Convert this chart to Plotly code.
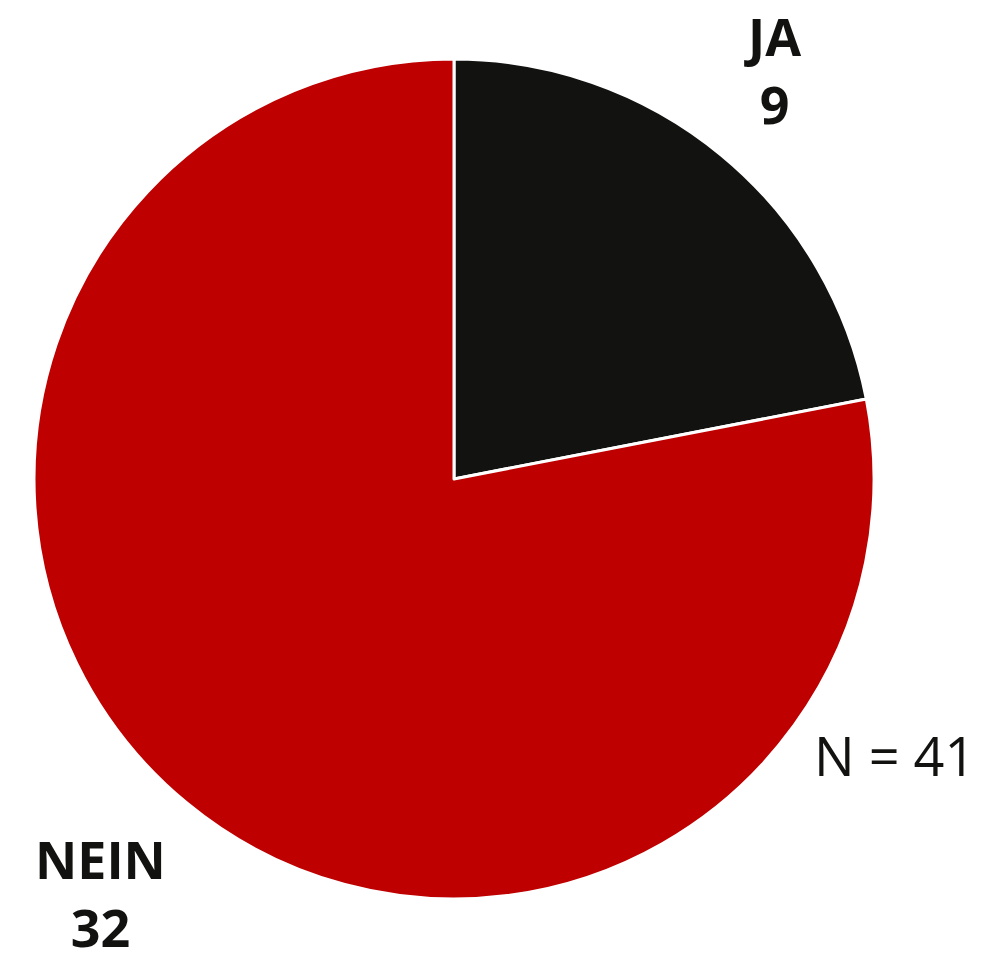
import plotly.graph_objects as go

labels = ["JA", "NEIN"]
values = [9, 32]
colors = ["#121210", "#BE0000"]
total_label = "N = 41"

W, H = 983, 958
cx, cy, r = 446, 471, 420

fig = go.Figure(go.Pie(
    labels=labels,
    values=values,
    sort=False,
    direction="clockwise",
    rotation=0,
    marker=dict(colors=colors, line=dict(color="white", width=3)),
    textinfo="none",
    hoverinfo="label+value",
    showlegend=False,
    domain=dict(x=[(cx - r) / W, (cx + r) / W], y=[1 - (cy + r) / H, 1 - (cy - r) / H]),
))

font_b = dict(family="Open Sans", size=52, color="#121210")
ann_pos = {"JA": (764, 61), "NEIN": (92, 884)}
for lab, val in zip(labels, values):
    x, y = ann_pos[lab]
    fig.add_annotation(x=x / W, y=1 - y / H, xref="paper", yref="paper",
                       text=f"<b>{lab}</b><br><b>{val}</b>", showarrow=False,
                       font=font_b, xanchor="center", yanchor="middle")

fig.add_annotation(x=886 / W, y=1 - 747 / H, xref="paper", yref="paper",
                   text=total_label, showarrow=False,
                   font=dict(family="Open Sans", size=54, color="#121210"),
                   xanchor="center", yanchor="middle")

fig.update_layout(width=W, height=H, margin=dict(l=0, r=0, t=0, b=0),
                  paper_bgcolor="white", plot_bgcolor="white")
fig.write_html("out.html")
